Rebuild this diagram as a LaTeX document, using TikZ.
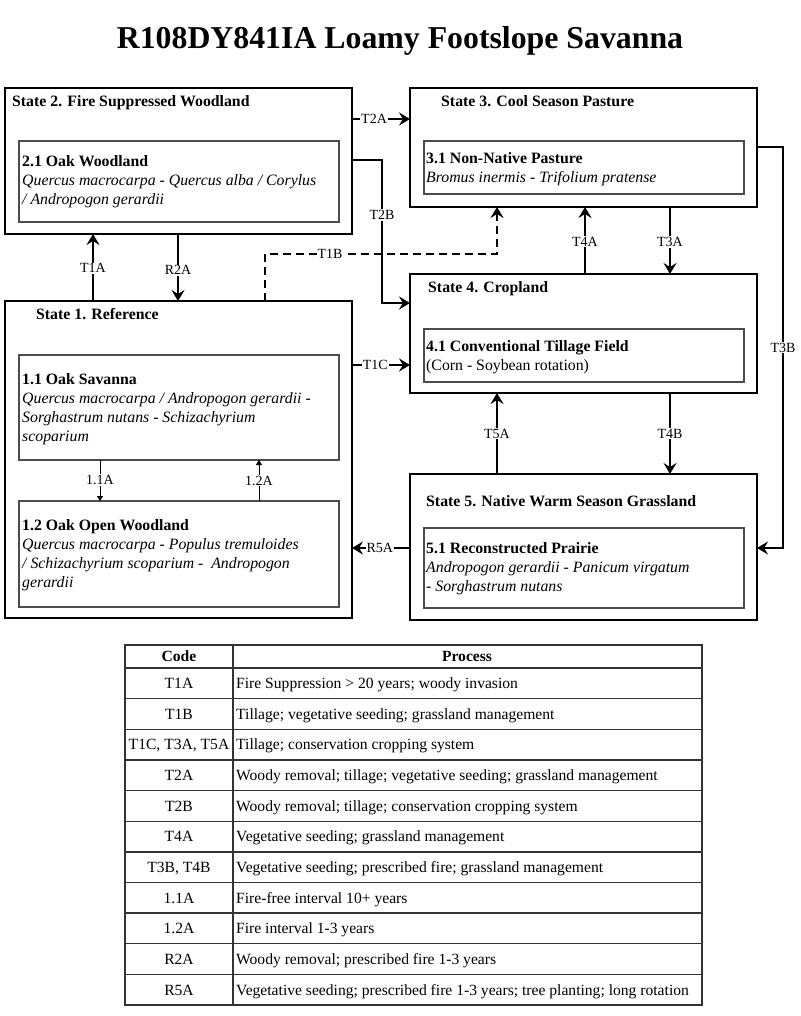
\documentclass[tikz,border=0pt]{standalone}
\usepackage{fontspec}
\setmainfont{Liberation Serif}
\usetikzlibrary{arrows.meta}
\begin{document}
\begin{tikzpicture}[x=1pt,y=-1pt,
  sbox/.style={draw, line width=2.7pt, minimum width=347pt, anchor=north west, inner sep=0pt, outer sep=0pt},
  ibox/.style={draw=black!70, line width=1.2pt, minimum width=320pt, anchor=north west, inner sep=0pt, outer sep=0pt},
  stitle/.style={anchor=base west, inner sep=0pt, font=\fontsize{15.8}{19}\selectfont\bfseries},
  itext/.style={anchor=north west, inner sep=0pt, align=left, font=\fontsize{15.8}{19}\selectfont},
  conn/.style={line width=2.5pt, -{Stealth[length=11pt,width=13pt,inset=4pt]}},
  thinconn/.style={line width=1pt, -{Triangle[length=5pt,width=6pt]}},
  lbl/.style={fill=white, inner sep=1pt, font=\fontsize{14}{16}\selectfont},
  tline/.style={draw=black!80, line width=1.3pt},
  tcell/.style={inner sep=0pt, font=\fontsize{15.6}{18}\selectfont}]
\fill[white] (0,0) rectangle (800,1016);
\useasboundingbox (0,0) rectangle (800,1016);

% title
\node[anchor=base, inner sep=0pt, font=\fontsize{31.8}{36}\selectfont\bfseries] (title) at (400,49) {R108DY841IA Loamy Footslope Savanna};

% state boxes
\node[sbox, minimum height=146pt] (s2) at (5,88) {};
\node[sbox, minimum height=119pt] (s3) at (410,88) {};
\node[sbox, minimum height=119pt] (s4) at (410,274) {};
\node[sbox, minimum height=146pt] (s5) at (410,474) {};
\node[sbox, minimum height=317pt] (s1) at (5,301) {};

% inner boxes
\node[ibox, minimum height=81pt] (i21) at (19,141) {};
\node[ibox, minimum height=53pt] (i31) at (424,141) {};
\node[ibox, minimum height=53pt] (i41) at (424,329) {};
\node[ibox, minimum height=80pt] (i51) at (424,528) {};
\node[ibox, minimum height=105pt] (i11) at (19,355) {};
\node[ibox, minimum height=106pt] (i12) at (19,501) {};

% state titles
\node[stitle] (ts2) at (12,107) {State 2. Fire Suppressed Woodland};
\node[stitle] (ts3) at (441,107) {State 3. Cool Season Pasture};
\node[stitle] (ts4) at (428,292) {State 4. Cropland};
\node[stitle] (ts5) at (426,506) {State 5. Native Warm Season Grassland};
\node[stitle] (ts1) at (36,319) {State 1. Reference};

% inner texts
\node[itext] (t21) at (22,155) {\textbf{2.1 Oak Woodland}\\\textit{Quercus macrocarpa - Quercus alba / Corylus}\\\textit{/ Andropogon gerardii}};
\node[itext] (t31) at (426,152) {\textbf{3.1 Non-Native Pasture}\\\textit{Bromus inermis - Trifolium pratense}};
\node[itext] (t41) at (426,340) {\textbf{4.1 Conventional Tillage Field}\\(Corn - Soybean rotation)};
\node[itext] (t51) at (426,542) {\textbf{5.1 Reconstructed Prairie}\\\textit{Andropogon gerardii - Panicum virgatum}\\\textit{- Sorghastrum nutans}};
\node[itext] (t11) at (22,373) {\textbf{1.1 Oak Savanna}\\\textit{Quercus macrocarpa / Andropogon gerardii -}\\\textit{Sorghastrum nutans - Schizachyrium}\\\textit{scoparium}};
\node[itext] (t12) at (22,519) {\textbf{1.2 Oak Open Woodland}\\\textit{Quercus macrocarpa - Populus tremuloides}\\\textit{/ Schizachyrium scoparium -\ \ Andropogon}\\\textit{gerardii}};

% connectors
\draw[conn] (s2.east |- 0,119) -- node[lbl, pos=0.38] (lT2A) {T2A} (s3.west |- 0,119);
\draw[conn] (s2.east |- 0,160) -- (382,160) -- node[lbl, pos=0.385] (lT2B) {T2B} (382,303) -- (s4.west |- 0,303);
\draw[conn] (s1.north -| 93,0) -- node[lbl, pos=0.49] (lT1A) {T1A} (s2.south -| 93,0);
\draw[conn] (s2.south -| 178,0) -- node[lbl, pos=0.54] (lR2A) {R2A} (s1.north -| 178,0);
\draw[conn, dash pattern=on 8pt off 5pt] (s1.north -| 265,0) -- (265,254) -- node[lbl, pos=0.28] (lT1B) {T1B} (497,254) -- (s3.south -| 497,0);
\draw[conn] (s4.north -| 585,0) -- node[lbl, pos=0.48] (lT4A) {T4A} (s3.south -| 585,0);
\draw[conn] (s3.south -| 670,0) -- node[lbl, pos=0.52] (lT3A) {T3A} (s4.north -| 670,0);
\draw[conn] (s3.east |- 0,147) -- (783,147) -- node[lbl, pos=0.5] (lT3B) {T3B} (783,548) -- (s5.east |- 0,548);
\draw[conn] (s1.east |- 0,365) -- node[lbl, pos=0.4] (lT1C) {T1C} (s4.west |- 0,365);
\draw[conn] (s5.north -| 497,0) -- node[lbl, pos=0.5] (lT5A) {T5A} (s4.south -| 497,0);
\draw[conn] (s4.south -| 670,0) -- node[lbl, pos=0.5] (lT4B) {T4B} (s5.north -| 670,0);
\draw[conn] (s5.west |- 0,548) -- node[lbl, pos=0.52] (lR5A) {R5A} (s1.east |- 0,548);
\draw[thinconn] (i11.south -| 100,0) -- node[lbl, pos=0.49] (l11A) {1.1A} (i12.north -| 100,0);
\draw[thinconn] (i12.north -| 259,0) -- node[lbl, pos=0.5] (l12A) {1.2A} (i11.south -| 259,0);

% table
\draw[tline] (125,645) rectangle (702,1005);
\draw[tline] (233,645) -- (233,1005);
\draw[tline] (125,668) -- (702,668);
\foreach \i in {1,...,10} {
  \draw[tline] (125,{668+30.64*\i}) -- (702,{668+30.64*\i});
}
\node[tcell, anchor=base, font=\fontsize{15.6}{18}\selectfont\bfseries] (hcode) at (179,661.5) {Code};
\node[tcell, anchor=base, font=\fontsize{15.6}{18}\selectfont\bfseries] (hproc) at (467,661.5) {Process};
\foreach \c/\p [count=\i] in {
  {T1A}/{Fire Suppression > 20 years; woody invasion},
  {T1B}/{Tillage; vegetative seeding; grassland management},
  {T1C, T3A, T5A}/{Tillage; conservation cropping system},
  {T2A}/{Woody removal; tillage; vegetative seeding; grassland management},
  {T2B}/{Woody removal; tillage; conservation cropping system},
  {T4A}/{Vegetative seeding; grassland management},
  {T3B, T4B}/{Vegetative seeding; prescribed fire; grassland management},
  {1.1A}/{Fire-free interval 10+ years},
  {1.2A}/{Fire interval 1-3 years},
  {R2A}/{Woody removal; prescribed fire 1-3 years},
  {R5A}/{Vegetative seeding; prescribed fire 1-3 years; tree planting; long rotation}} {
  \node[tcell, anchor=base] (c\i) at (179,{668+30.64*(\i-0.5)+5.3}) {\c};
  \node[tcell, anchor=base west] (p\i) at (236,{668+30.64*(\i-0.5)+5.3}) {\p};
}
\end{tikzpicture}
\end{document}
